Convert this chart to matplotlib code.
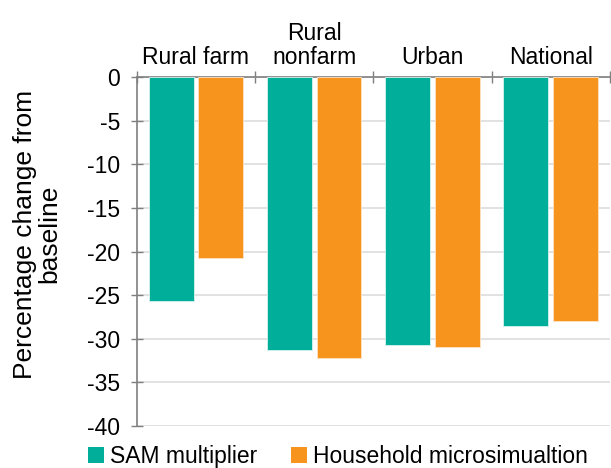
import matplotlib.pyplot as plt
import numpy as np
from matplotlib.patches import Patch

plt.rcParams['font.family'] = ['Liberation Sans', 'DejaVu Sans']

categories = ['Rural farm', 'Rural\nnonfarm', 'Urban', 'National']
sam_multiplier = [-25.7, -31.3, -30.7, -28.5]
household_micro = [-20.8, -32.2, -30.9, -28.0]
yticks = np.arange(-40, 1, 5)

teal = '#00ae9a'
orange = '#f7941e'

fig = plt.figure(figsize=(6.11, 4.68), dpi=100)
ax = fig.add_axes([0.224, 0.0897, 0.774, 0.7458])

x = np.arange(len(categories))
w = 0.38
ax.bar(x - 0.21, sam_multiplier, w, color=teal, edgecolor='#d8f3ef', linewidth=0.6, zorder=3)
ax.bar(x + 0.21, household_micro, w, color=orange, edgecolor='#fde3c4', linewidth=0.6, zorder=3)

ax.set_xlim(-0.5, len(categories) - 0.5)
ax.set_ylim(-40, 0)
ax.set_yticks(yticks)
ax.set_yticklabels([str(v) for v in yticks], fontsize=16.5)
ax.yaxis.grid(True, color='#dddddd', linewidth=1.2, zorder=0)
ax.set_axisbelow(True)

# category axis sits on top at zero
ax.xaxis.tick_top()
ax.set_xticks(np.arange(-0.5, len(categories), 1))
ax.set_xticklabels([])
ax.set_xticks(x, minor=True)
ax.set_xticklabels(categories, minor=True, fontsize=16.5, linespacing=1.05)
ax.tick_params(axis='x', which='major', direction='inout', length=8, color='#7f7f7f', width=1)
ax.tick_params(axis='x', which='minor', length=0, pad=6)
ax.tick_params(axis='y', direction='inout', length=8, color='#7f7f7f', width=1, pad=8)

for s in ['bottom', 'right']:
    ax.spines[s].set_visible(False)
for s in ['top', 'left']:
    ax.spines[s].set_color('#7f7f7f')
    ax.spines[s].set_linewidth(1.2)

ax.set_ylabel('Percentage change from\nbaseline', fontsize=19, linespacing=1.05,
              va='center', multialignment='center')
ax.yaxis.set_label_coords(-0.211, 0.55)

handles = [Patch(facecolor=teal, label='SAM multiplier'),
           Patch(facecolor=orange, label='Household microsimualtion')]
fig.legend(handles=handles, loc='lower left', bbox_to_anchor=(0.11, -0.045), ncol=2,
           frameon=False, fontsize=16.5, handlelength=0.7, handleheight=0.7,
           handletextpad=0.25, columnspacing=1.5)

fig.savefig('out.png', dpi=100)
